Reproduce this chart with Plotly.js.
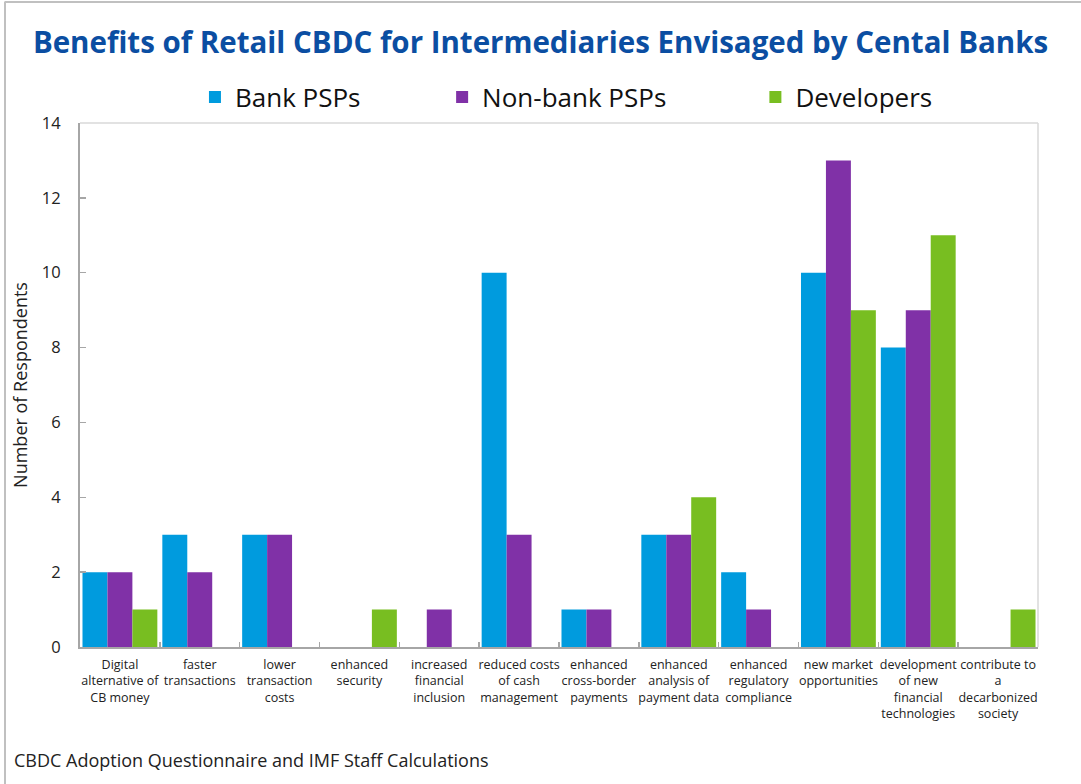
<!DOCTYPE html>
<html>
<head>
<meta charset="utf-8">
<script src="https://cdn.plot.ly/plotly-3.0.1.min.js"></script>
<style>html,body{margin:0;padding:0;background:#fff;}#chart{width:1081px;height:784px;}</style>
</head>
<body>
<div id="chart"></div>
<script>
const categories = [
  "Digital<br>alternative of<br>CB money",
  "faster<br>transactions",
  "lower<br>transaction<br>costs",
  "enhanced<br>security",
  "increased<br>financial<br>inclusion",
  "reduced costs<br>of cash<br>management",
  "enhanced<br>cross-border<br>payments",
  "enhanced<br>analysis of<br>payment data",
  "enhanced<br>regulatory<br>compliance",
  "new market<br>opportunities",
  "development<br>of new<br>financial<br>technologies",
  "contribute to<br>a<br>decarbonized<br>society"
];
const bankPSPs    = [2, 3, 3, 0, 0, 10, 1, 3, 2, 10, 8, 0];
const nonBankPSPs = [2, 2, 3, 0, 1, 3, 1, 3, 1, 13, 9, 0];
const developers  = [1, 0, 0, 1, 0, 0, 0, 4, 0, 9, 11, 1];
const yTicks = [0, 2, 4, 6, 8, 10, 12, 14];

const FONT = "Open Sans, Noto Sans, sans-serif";
const traces = [
  {type:'bar', name:'Bank PSPs', x:categories, y:bankPSPs, marker:{color:'#009BDE'}, legend:'legend', hoverinfo:'y'},
  {type:'bar', name:'Non-bank PSPs', x:categories, y:nonBankPSPs, marker:{color:'#8031A7'}, legend:'legend2', hoverinfo:'y'},
  {type:'bar', name:'Developers', x:categories, y:developers, marker:{color:'#78BE21'}, legend:'legend3', hoverinfo:'y'}
];
const legBase = {orientation:'h', yanchor:'middle', y:1.0496, xanchor:'left', font:{family:FONT, size:26, color:'#111'}, bgcolor:'rgba(0,0,0,0)', itemwidth:30};
const layout = {
  width:1081, height:784,
  margin:{l:80, r:43, t:123, b:137},
  paper_bgcolor:'#fff', plot_bgcolor:'#fff',
  font:{family:FONT, color:'#222'},
  title:{text:'<b>Benefits of Retail CBDC for Intermediaries Envisaged by Cental Banks</b>', x:0.5, xanchor:'center', xref:'container', y:0.945, yanchor:'middle', font:{family:FONT, size:29.5, color:'#0B4EA2'}},
  barmode:'group', bargap:0.0625, bargroupgap:0,
  showlegend:true,
  legend:Object.assign({}, legBase, {x:0.12}),
  legend2:Object.assign({}, legBase, {x:0.378}),
  legend3:Object.assign({}, legBase, {x:0.705}),
  xaxis:{
    type:'category', tickson:'boundaries', ticks:'inside', ticklen:5, tickcolor:'#a6a6a6', tickwidth:1.5,
    showline:true, linecolor:'#a6a6a6', linewidth:2, showgrid:false, zeroline:false,
    tickfont:{family:FONT, size:12.5, color:'#222'}, tickangle:0, automargin:false, ticklabelstandoff:5
  },
  yaxis:{
    range:[0,14], tickvals:yTicks, ticks:'inside', ticklen:6, tickcolor:'#a6a6a6', tickwidth:1.5,
    showline:true, linecolor:'#a6a6a6', linewidth:2, showgrid:false, zeroline:false,
    tickfont:{family:FONT, size:16.5, color:'#222'}, ticklabelstandoff:14, automargin:false,
    title:{text:'Number of Respondents', font:{family:FONT, size:18, color:'#222'}, standoff:10}
  },
  shapes:[
    {type:'line', xref:'paper', yref:'paper', x0:0, x1:1, y0:1, y1:1, line:{color:'#d9d9d9', width:1.5}},
    {type:'line', xref:'paper', yref:'paper', x0:1, x1:1, y0:0, y1:1, line:{color:'#d9d9d9', width:1.5}},
    {type:'line', xref:'paper', yref:'paper', x0:-0.0783, x1:-0.0783, y0:1.232, y1:-0.27, line:{color:'#c0c0c0', width:2}},
    {type:'line', xref:'paper', yref:'paper', x0:-0.0783, x1:1.05, y0:1.2309, y1:1.2309, line:{color:'#c0c0c0', width:2}}
  ],
  annotations:[
    {text:'CBDC Adoption Questionnaire and IMF Staff Calculations', xref:'paper', yref:'paper', x:(12-80)/958, y:(647-760)/524, xanchor:'left', yanchor:'middle', showarrow:false, font:{family:FONT, size:18, color:'#222'}}
  ]
};
Plotly.newPlot('chart', traces, layout, {displayModeBar:false, staticPlot:true});
</script>
</body>
</html>
